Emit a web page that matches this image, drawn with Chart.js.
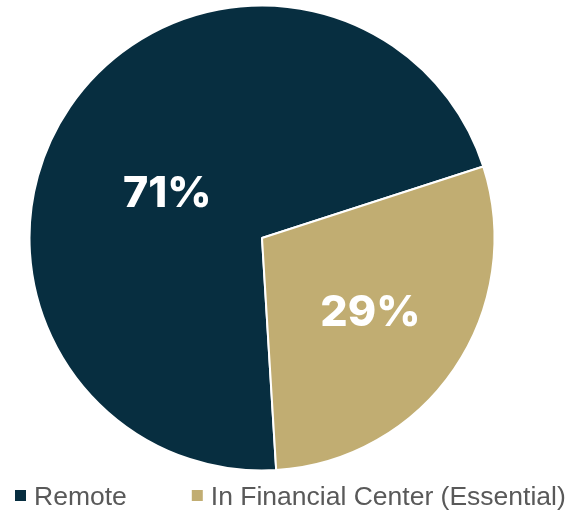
<!DOCTYPE html>
<html>
<head>
<meta charset="utf-8">
<script src="https://cdn.jsdelivr.net/npm/chart.js@4/dist/chart.umd.min.js"></script>
<style>
  html, body { margin: 0; padding: 0; background: #ffffff; }
  #wrap { width: 587px; height: 510px; position: relative; }
</style>
</head>
<body>
<div id="wrap"><canvas id="chart"></canvas></div>
<script>
// Work location split
const categories = ['Remote', 'In Financial Center (Essential)'];
const shares = [71, 29];
const valueLabels = ['71%', '29%'];
const sliceColors = ['#072E40', '#C1AD72'];

// In-slice percentage labels: angular nudge (deg) and radius fraction per slice
const labelPlacement = [
  { turn: -8, frac: 0.455 },
  { turn: -0.6, frac: 0.56 }
];

const sliceLabelPlugin = {
  id: 'sliceLabels',
  afterDatasetsDraw(chart) {
    const ctx = chart.ctx;
    const meta = chart.getDatasetMeta(0);
    const size = 43;
    ctx.save();
    ctx.font = '800 ' + size + 'px Inter, Lato, sans-serif';
    ctx.fillStyle = '#ffffff';
    ctx.textAlign = 'center';
    ctx.textBaseline = 'alphabetic';
    meta.data.forEach((arc, i) => {
      const p = arc.getProps(['x', 'y', 'startAngle', 'endAngle', 'outerRadius'], true);
      const place = labelPlacement[i];
      const mid = (p.startAngle + p.endAngle) / 2 + place.turn * Math.PI / 180;
      const r = p.outerRadius * place.frac;
      const cx = p.x + Math.cos(mid) * r;
      const cy = p.y + Math.sin(mid) * r;
      ctx.fillText(valueLabels[i], cx, cy + size * 0.36);
    });
    ctx.restore();
  }
};

// Legend row under the pie
const legendRowPlugin = {
  id: 'legendRow',
  afterDraw(chart) {
    const ctx = chart.ctx;
    const box = 11, boxTop = 490, baseline = 505, textGap = 19, itemGap = 65;
    let x = 15;
    ctx.save();
    ctx.font = '26.5px "Liberation Sans", Arial, sans-serif';
    ctx.textBaseline = 'alphabetic';
    ctx.textAlign = 'left';
    categories.forEach((name, i) => {
      ctx.fillStyle = sliceColors[i];
      ctx.fillRect(x, boxTop, box, box);
      ctx.fillStyle = '#595959';
      ctx.fillText(name, x + textGap, baseline);
      x += textGap + ctx.measureText(name).width + itemGap;
    });
    ctx.restore();
  }
};

new Chart(document.getElementById('chart'), {
  type: 'pie',
  data: {
    labels: categories,
    datasets: [{
      data: shares,
      backgroundColor: sliceColors,
      borderColor: '#ffffff',
      borderWidth: 2
    }]
  },
  options: {
    responsive: true,
    maintainAspectRatio: false,
    animation: false,
    events: [],
    rotation: 176.5,
    layout: { padding: { top: 4.5, bottom: 38.5, left: 0, right: 63 } },
    plugins: {
      legend: { display: false },
      tooltip: { enabled: false }
    }
  },
  plugins: [sliceLabelPlugin, legendRowPlugin]
});
</script>
</body>
</html>
